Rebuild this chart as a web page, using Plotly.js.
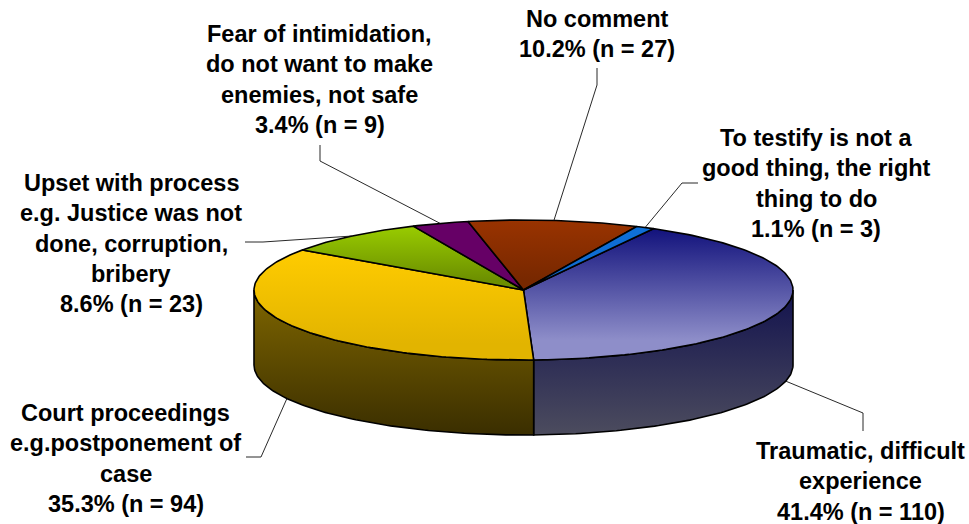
<!DOCTYPE html>
<html>
<head>
<meta charset="utf-8">
<script src="https://cdn.plot.ly/plotly-3.0.1.min.js"></script>
<style>
  html, body { margin: 0; padding: 0; background: #ffffff; }
  #chart { width: 969px; height: 524px; }
</style>
</head>
<body>
<div id="chart"></div>
<script>
// Reasons for not wanting to testify, clockwise from the start angle.
const categories = ["Traumatic", "Court", "Upset", "Fear", "NoComment", "Testify"];
const shares = [41.4, 35.3, 8.6, 3.4, 10.2, 1.1];

const labelLines = [
  ["Traumatic, difficult", "experience", "41.4% (n = 110)"],
  ["Court proceedings", "e.g.postponement of", "case", "35.3% (n = 94)"],
  ["Upset with process", "e.g. Justice was not", "done, corruption,", "bribery", "8.6% (n = 23)"],
  ["Fear of intimidation,", "do not want to make", "enemies, not safe", "3.4% (n = 9)"],
  ["No comment", "10.2% (n = 27)"],
  ["To testify is not a", "good thing, the right", "thing to do", "1.1% (n = 3)"]
];

// Text block placement: centre x and first-line centre y.
const labelX = [860.5, 125.5, 131, 319.5, 597, 816];
const labelY = [451, 413, 183, 34, 19, 138];
const lineStep = 30.3;

// Leader elbows, running from the label towards the slice.
const leaderX = [[863, 863], [246, 261], [245, 263], [320, 320], [597, 597], [698, 682]];
const leaderY = [[431, 413], [457, 457], [242, 242], [145, 161], [68, 85], [183, 183]];

// Face and wall gradients, top to bottom.
const faceTop = ["#12127c", "#ffcc00", "#99cc00", "#660066", "#993300", "#0f70d8"];
const faceBottom = ["#8e8ec9", "#e2b400", "#6c8f00", "#660066", "#782800", "#0f6ad0"];
const wallTop = ["#12124e", "#7f6600"];
const wallBottom = ["#4c4c5e", "#3a2e00"];

// Pie geometry in plot units.
const cx = 523.5, cy = 290, rx = 269.5, ry = 70, depth = 75;
const startAngle = 28.8;
const faceRamp = 0.85;

const px = a => cx + rx * Math.sin(a * Math.PI / 180);
const py = a => cy - ry * Math.cos(a * Math.PI / 180);

function arc(a0, a1) {
  const n = Math.max(2, Math.ceil(Math.abs(a1 - a0)));
  const out = [];
  for (let i = 0; i <= n; i++) out.push(a0 + (a1 - a0) * i / n);
  return out;
}

function polygon(xs, ys, top, bottom, ramp) {
  return {
    type: "scatter", mode: "lines", x: xs, y: ys,
    fill: "toself",
    fillgradient: {
      type: "vertical",
      colorscale: [[0, top], [ramp, bottom], [1, bottom]],
      start: Math.min(...ys),
      stop: Math.max(...ys)
    },
    line: { color: "#000000", width: 1.6, shape: "linear" },
    hoverinfo: "skip", showlegend: false
  };
}

// Slice boundaries as angles, derived from the shares.
const total = shares.reduce((s, v) => s + v, 0);
let running = startAngle;
const spans = shares.map(v => {
  const a0 = running;
  running += v / total * 360;
  return [a0, running];
});

const traces = [];

// Outer wall: only the front half of the rim (90 to 270 degrees) is visible.
let wallIndex = 0;
spans.forEach(([a0, a1]) => {
  const lo = Math.max(a0, 90), hi = Math.min(a1, 270);
  if (hi <= lo) return;
  const angles = arc(lo, hi);
  const xs = angles.map(px).concat(angles.slice().reverse().map(px));
  const ys = angles.map(py).concat(angles.slice().reverse().map(a => py(a) + depth));
  xs.push(xs[0]); ys.push(ys[0]);
  traces.push(polygon(xs, ys, wallTop[wallIndex], wallBottom[wallIndex], 1));
  wallIndex++;
});

// Top faces.
spans.forEach(([a0, a1], i) => {
  const angles = arc(a0, a1);
  const xs = [cx].concat(angles.map(px), [cx]);
  const ys = [cy].concat(angles.map(py), [cy]);
  traces.push(polygon(xs, ys, faceTop[i], faceBottom[i], faceRamp));
});

// Leaders end on the rim at each slice's mid-angle; wall-side slices land on the lower edge.
spans.forEach(([a0, a1], i) => {
  const mid = (a0 + a1) / 2;
  const onWall = mid > 90 && mid < 270;
  traces.push({
    type: "scatter", mode: "lines",
    x: leaderX[i].concat([px(mid)]),
    y: leaderY[i].concat([py(mid) + (onWall ? depth : 0)]),
    line: { color: "#111111", width: 0.9 },
    hoverinfo: "skip", showlegend: false
  });
});

// Each label line is placed on its own to keep the line pitch.
const annotations = [];
labelLines.forEach((lines, i) => {
  lines.forEach((text, j) => {
    annotations.push({
      x: labelX[i], y: labelY[i] + j * lineStep,
      xref: "x", yref: "y",
      text: text, showarrow: false,
      xanchor: "center", yanchor: "middle",
      font: { family: "Liberation Sans, Arial, sans-serif", size: 23.5, color: "#000000", weight: 700 }
    });
  });
});

Plotly.newPlot("chart", traces, {
  width: 969, height: 524,
  margin: { l: 0, r: 0, t: 0, b: 0 },
  paper_bgcolor: "#ffffff", plot_bgcolor: "#ffffff",
  showlegend: false,
  xaxis: { range: [0, 969], visible: false, fixedrange: true },
  yaxis: { range: [524, 0], visible: false, fixedrange: true },
  annotations: annotations
}, { displayModeBar: false, responsive: false });
</script>
</body>
</html>
